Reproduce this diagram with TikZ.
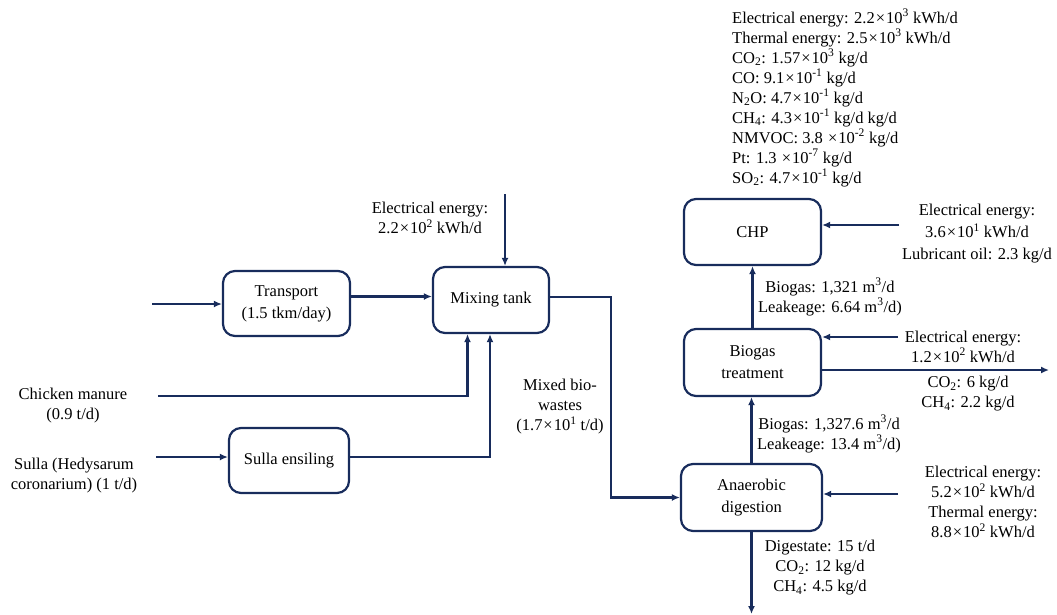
\documentclass[tikz,border=0pt]{standalone}
\usepackage{fontspec}
\setmainfont{Liberation Serif}
\usetikzlibrary{arrows.meta, positioning}
\usepackage{xcolor}
\definecolor{flowblue}{RGB}{24,44,92}
\newcommand{\tenpow}[2]{#1\kern1pt×\kern1pt10\textsuperscript{#2}}
\tikzset{
    process/.style={draw=flowblue, line width=2.2pt, rounded corners=12pt, align=center, inner sep=2pt, font=\fontsize{16.5}{22}\selectfont},
    flow/.style={draw=flowblue, line width=2.2pt, -{Latex[length=8pt,width=7pt]}},
    note/.style={align=center, inner sep=0pt, font=\fontsize{16.5}{20}\selectfont},
}

\begin{document}
\begin{tikzpicture}[x=1pt, y=-1pt, font=\fontsize{16.5}{20}\selectfont]
        \useasboundingbox (0,0) rectangle (1057,614);
        \node[process, minimum width=127pt, minimum height=65pt] (transport) at (286.5,303.5) {Transport\\(1.5 tkm/day)};
        \node[process, minimum width=116pt, minimum height=66pt] (mixing) at (491,300) {Mixing tank};
        \node[process, minimum width=120pt, minimum height=65pt] (sulla) at (289,460.5) {Sulla ensiling};
        \node[process, minimum width=137pt, minimum height=66pt] (chp) at (752.5,232) {CHP};
        \node[process, minimum width=137pt, minimum height=67pt] (treatment) at (752.5,362.5) {Biogas\\treatment};
        \node[process, minimum width=141pt, minimum height=67pt] (digestion) at (751.5,497.5) {Anaerobic\\digestion};

        \coordinate (transportin) at (152,304);
        \coordinate (mixelec) at (505,194);
        \coordinate (chickenin) at (158,396);
        \coordinate (sullain) at (156,457);
        \coordinate (chpelec) at (899,225);
        \coordinate (treatelec) at (898,337);
        \coordinate (treatout) at (1049,370);
        \coordinate (digelec) at (898,494);
        \coordinate (digout) at (751,614);

        \node[note] (chicken) at (73,405.5) {Chicken manure\\(0.9 t/d)};
        \node[note] (sullalbl) at (74,476) {Sulla (Hedysarum\\coronarium) (1 t/d)};
        \node[note] (mixeleclbl) at (430,218) {Electrical energy:\\\tenpow{2.2}{2} kWh/d};
        \node[note] (mixedlbl) at (560,407) {Mixed bio-\\wastes\\(\tenpow{1.7}{1} t/d)};
        \node[note, anchor=north west, align=left] (chpout) at (732,9) {Electrical energy: \tenpow{2.2}{3} kWh/d\\
            Thermal energy: \tenpow{2.5}{3} kWh/d\\
            CO\textsubscript{2}: \tenpow{1.57}{3} kg/d\\
            CO: \tenpow{9.1}{-1} kg/d\\
            N\textsubscript{2}O: \tenpow{4.7}{-1} kg/d\\
            CH\textsubscript{4}: \tenpow{4.3}{-1} kg/d kg/d\\
            NMVOC: 3.8 \tenpow{}{-2} kg/d\\
            Pt: 1.3 \tenpow{}{-7} kg/d\\
            SO\textsubscript{2}: \tenpow{4.7}{-1} kg/d};
        \node[note, font=\fontsize{16.5}{22}\selectfont] (chpinlbl) at (977,234) {Electrical energy:\\\tenpow{3.6}{1} kWh/d\\Lubricant oil: 2.3 kg/d};
        \node[note] (biogas2lbl) at (830,297) {Biogas: 1,321 m\textsuperscript{3}/d\\Leakeage: 6.64 m\textsuperscript{3}/d)};
        \node[note] (treatinlbl) at (963,346.5) {Electrical energy:\\\tenpow{1.2}{2} kWh/d};
        \node[note] (treatoutlbl) at (968,394) {CO\textsubscript{2}: 6 kg/d\\CH\textsubscript{4}: 2.2 kg/d};
        \node[note] (biogas1lbl) at (829,434) {Biogas: 1,327.6 m\textsuperscript{3}/d\\Leakeage: 13.4 m\textsuperscript{3}/d)};
        \node[note] (diginlbl) at (983,502) {Electrical energy:\\\tenpow{5.2}{2} kWh/d\\Thermal energy:\\\tenpow{8.8}{2} kWh/d};
        \node[note] (digoutlbl) at (820,568) {Digestate: 15 t/d\\CO\textsubscript{2}: 12 kg/d\\CH\textsubscript{4}: 4.5 kg/d};

        \draw[flow] (transportin) -- (transportin -| transport.west);
        \draw[flow] ([yshift=7pt]transport.east) -- ([yshift=7pt]transport.east -| mixing.west);
        \draw[flow] (mixelec) -- (mixelec |- mixing.north);
        \draw[flow] (chickenin) -| ([xshift=-23.5pt]mixing.south);
        \draw[flow] (sullain) -- (sullain -| sulla.west);
        \draw[flow] (sulla.east |- sullain) -| ([xshift=-1pt]mixing.south);
        \draw[flow] ([yshift=3pt]mixing.east) -- ++(61,0) |- (digestion.west);
        \draw[flow] (digestion.north) -- (digestion.north |- treatment.south);
        \draw[flow] (treatment.north) -- (chp.south);
        \draw[flow] (chpelec) -- (chpelec -| chp.east);
        \draw[flow] (treatelec) -- (treatelec -| treatment.east);
        \draw[flow] (treatment.east |- treatout) -- (treatout);
        \draw[flow] (digelec) -- (digelec -| digestion.east);
        \draw[flow] (digestion.south) -- (digestion.south |- digout);
    \end{tikzpicture}
\end{document}
